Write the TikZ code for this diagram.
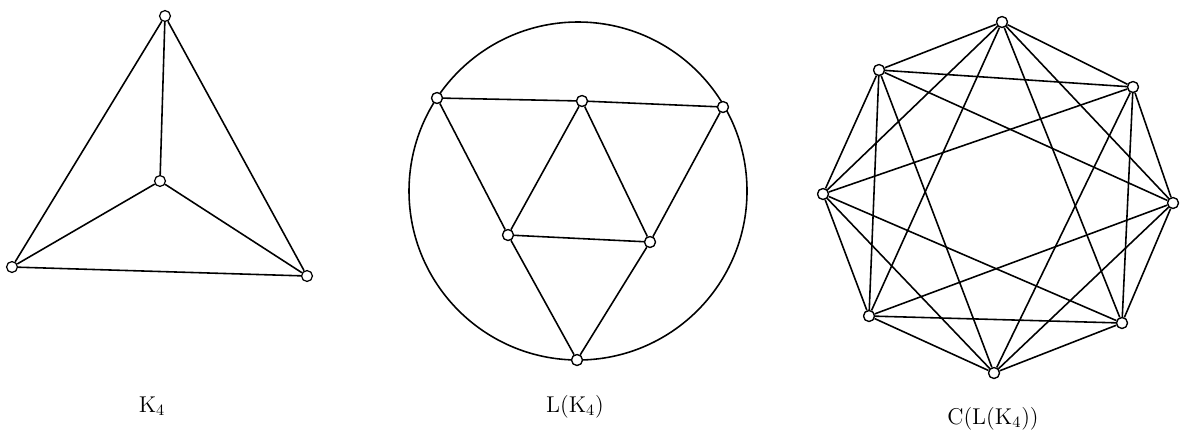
\documentclass[tikz,border=0pt]{standalone}
\begin{document}
\begin{tikzpicture}[x=0.02cm,y=-0.02cm,
  vtx/.style={circle,draw,fill=white,line width=0.7pt,inner sep=0pt,minimum size=6.2pt},
  edge/.style={line width=0.9pt},
  lbl/.style={font=\fontsize{13}{15}\selectfont}]
\useasboundingbox (0,0) rectangle (1186,437);
% K4
\node[vtx] (kt) at (165,16) {};
\node[vtx] (kc) at (160,181) {};
\node[vtx] (kl) at (12,267) {};
\node[vtx] (kr) at (307,276) {};
\draw[edge] (kt) -- (kc) (kt) -- (kl) (kt) -- (kr) (kc) -- (kl) (kc) -- (kr) (kl) -- (kr);
\node[lbl] (k4) at (152,406) {K$_4$};
% L(K4)
\coordinate (cc) at (578,191);
\draw[edge] (cc) circle[radius=169];
\node[vtx] (a) at (437,98) {};
\node[vtx] (b) at (582,101) {};
\node[vtx] (c) at (723,107) {};
\node[vtx] (d) at (508,235) {};
\node[vtx] (e) at (650,242) {};
\node[vtx] (f) at (577,360) {};
\draw[edge] (a) -- (b) (b) -- (c) (a) -- (d) (b) -- (d) (b) -- (e) (c) -- (e) (d) -- (e) (d) -- (f) (e) -- (f);
\foreach \n in {a,b,c,d,e,f} \node[vtx] at (\n) {};
\node[lbl] (lk4) at (575,407) {L(K$_4$)};
% C(L(K4))
\node[vtx] (v0) at (1002,22) {};
\node[vtx] (v1) at (1133,87) {};
\node[vtx] (v2) at (1173,203) {};
\node[vtx] (v3) at (1122,323) {};
\node[vtx] (v4) at (994,373) {};
\node[vtx] (v5) at (869,316) {};
\node[vtx] (v6) at (823,194) {};
\node[vtx] (v7) at (879,70) {};
\foreach \i in {0,...,7}{
  \foreach \k in {1,2,3}{
    \pgfmathtruncatemacro{\j}{mod(\i+\k,8)}
    \draw[edge] (v\i) -- (v\j);
  }
}
\foreach \i in {0,...,7} \node[vtx] at (v\i) {};
\node[lbl] (clk4) at (993,419) {C(L(K$_4$))};
\end{tikzpicture}
\end{document}
